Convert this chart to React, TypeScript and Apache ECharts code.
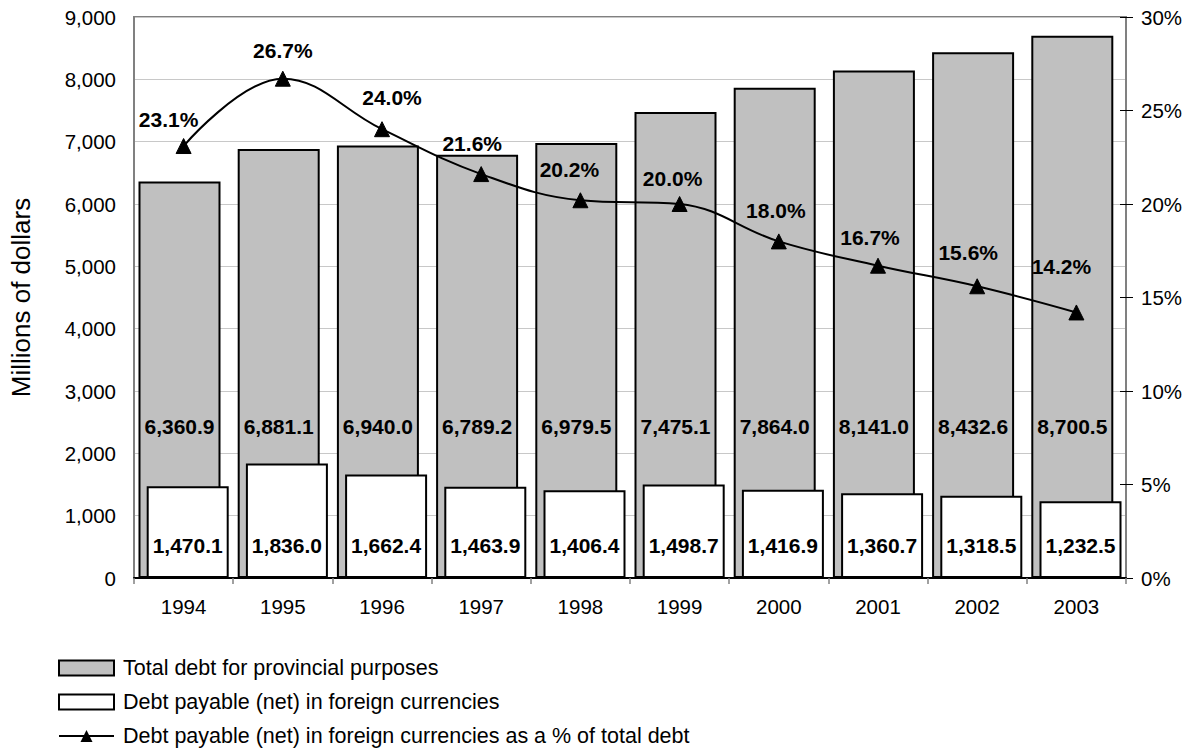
import React, { useEffect, useRef } from "react";
import * as echarts from "echarts";

const years = ["1994", "1995", "1996", "1997", "1998", "1999", "2000", "2001", "2002", "2003"];
const totalDebt = [6360.9, 6881.1, 6940.0, 6789.2, 6979.5, 7475.1, 7864.0, 8141.0, 8432.6, 8700.5];
const foreignDebt = [1470.1, 1836.0, 1662.4, 1463.9, 1406.4, 1498.7, 1416.9, 1360.7, 1318.5, 1232.5];
const foreignPct = [23.1, 26.7, 24.0, 21.6, 20.2, 20.0, 18.0, 16.7, 15.6, 14.2];

// label nudges (style only) for the percentage labels, [dx, dy] in px
const pctLabelShift: [number, number][] = [
  [-15, 4], [0, 2], [10, -1], [-9, 0], [-11, 0], [-7, 5], [-3, 0], [-8, 2], [-9, -3], [-15, -15],
];

const seriesNames = [
  "Total debt for provincial purposes",
  "Debt payable (net) in foreign currencies",
  "Debt payable (net) in foreign currencies as a % of total debt",
];

const FONT = '"Liberation Sans", Arial, Helvetica, sans-serif';

const fmtNum = (v: number, d: number) =>
  v.toLocaleString("en-US", { minimumFractionDigits: d, maximumFractionDigits: d });

export default function App() {
  const ref = useRef<HTMLDivElement>(null);
  useEffect(() => {
    if (!ref.current) return;
    const chart = echarts.init(ref.current, undefined, { renderer: "svg" });
    const boldLabel = {
      show: true,
      fontFamily: FONT,
      fontSize: 21,
      fontWeight: "bold" as const,
      color: "#000",
    };
    chart.setOption({
      animation: false,
      backgroundColor: "#fff",
      textStyle: { fontFamily: FONT, color: "#000" },
      grid: {
        left: 131,
        right: 64,
        top: 17,
        bottom: 170,
        show: true,
        borderColor: "#808080",
        borderWidth: 2,
        backgroundColor: "transparent",
      },
      legend: {
        orient: "vertical",
        left: 58,
        top: 657,
        padding: 0,
        itemWidth: 55,
        itemHeight: 15,
        itemGap: 12,
        textStyle: { fontFamily: FONT, fontSize: 21.5, color: "#000", padding: [0, 0, 0, 4] },
        data: [
          { name: seriesNames[0], icon: "rect" },
          { name: seriesNames[1], icon: "rect" },
          { name: seriesNames[2] },
        ],
      },
      xAxis: {
        type: "category",
        data: years,
        axisLine: { lineStyle: { color: "#000", width: 2 } },
        axisTick: { show: true, length: 6, lineStyle: { color: "#808080", width: 1.5 } },
        axisLabel: { fontFamily: FONT, fontSize: 20.5, color: "#000", margin: 18 },
      },
      yAxis: [
        {
          type: "value",
          min: 0,
          max: 9000,
          interval: 1000,
          name: "Millions of dollars",
          nameLocation: "middle",
          nameGap: 100,
          nameTextStyle: { fontFamily: FONT, fontSize: 26, color: "#000" },
          axisLine: { show: true, lineStyle: { color: "#808080", width: 2 } },
          axisTick: { show: false },
          axisLabel: {
            fontFamily: FONT,
            fontSize: 20.5,
            color: "#000",
            margin: 18,
            formatter: (v: number) => fmtNum(v, 0),
          },
          splitLine: { show: true, lineStyle: { color: "#c8c8c8", width: 1 } },
        },
        {
          type: "value",
          min: 0,
          max: 30,
          interval: 5,
          position: "right",
          axisLine: { show: true, lineStyle: { color: "#808080", width: 2 } },
          axisTick: { show: true, inside: false, length: 7, lineStyle: { color: "#000", width: 1 } },
          axisLabel: {
            fontFamily: FONT,
            fontSize: 20.5,
            color: "#000",
            margin: 15,
            formatter: (v: number) => v + "%",
          },
          splitLine: { show: false },
        },
        {
          type: "value",
          min: 0,
          max: 30,
          interval: 5,
          position: "right",
          axisLine: { show: false },
          axisTick: { show: true, inside: true, length: 6, lineStyle: { color: "#000", width: 1 } },
          axisLabel: { show: false },
          splitLine: { show: false },
        },
      ],
      series: [
        {
          name: seriesNames[0],
          type: "bar",
          data: totalDebt,
          barWidth: 82,
          barGap: "-90%",
          itemStyle: { color: "#c0c0c0", borderColor: "#000", borderWidth: 2 },
          label: {
            ...boldLabel,
            position: "insideBottom",
            distance: 141,
            formatter: (p: any) => fmtNum(p.value, 1),
          },
        },
        {
          name: seriesNames[1],
          type: "bar",
          data: foreignDebt,
          barWidth: 82,
          barGap: "-90%",
          itemStyle: { color: "#ffffff", borderColor: "#000", borderWidth: 2 },
          label: {
            ...boldLabel,
            position: "insideBottom",
            distance: 22,
            formatter: (p: any) => fmtNum(p.value, 1),
          },
        },
        {
          name: seriesNames[2],
          type: "line",
          yAxisIndex: 1,
          data: foreignPct.map((v, i) => ({
            value: v,
            label: { offset: pctLabelShift[i] },
          })),
          smooth: 0.4,
          symbol: "triangle",
          symbolSize: 15,
          lineStyle: { color: "#000", width: 2 },
          itemStyle: { color: "#000", borderColor: "#000" },
          label: {
            ...boldLabel,
            position: "top",
            distance: 12,
            formatter: (p: any) => Number(p.value).toFixed(1) + "%",
          },
          z: 5,
        },
      ],
    });
    return () => chart.dispose();
  }, []);
  return (
    <div
      ref={ref}
      style={{ position: "fixed", left: 0, top: 0, width: 1190, height: 748, background: "#fff" }}
    />
  );
}
